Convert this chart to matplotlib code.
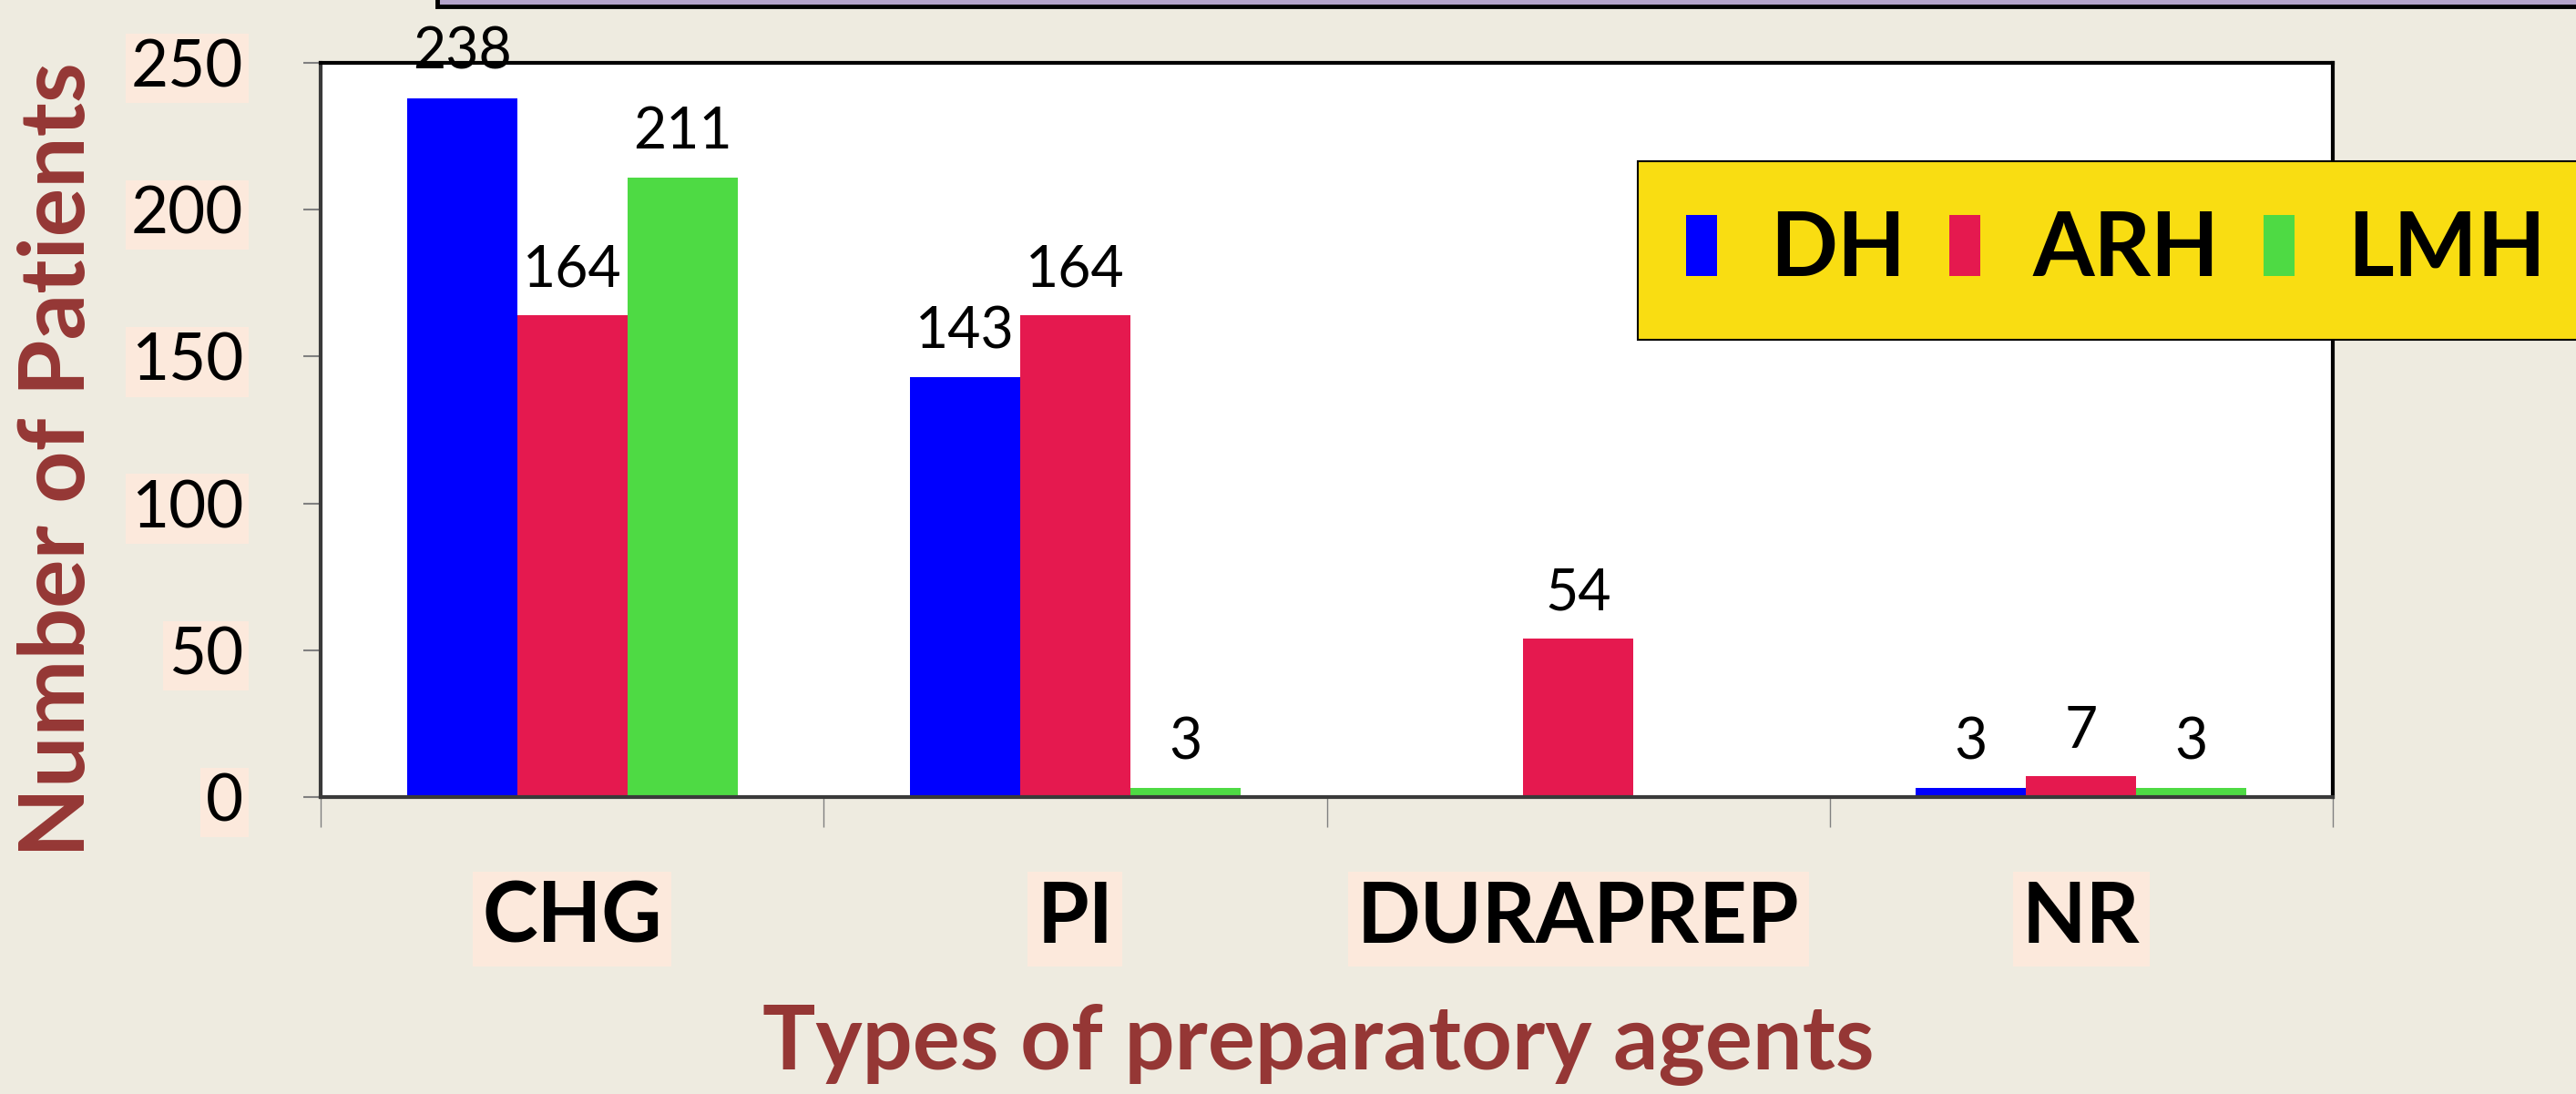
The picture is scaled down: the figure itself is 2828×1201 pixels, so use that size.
import numpy as np
import matplotlib
matplotlib.use('Agg')
import matplotlib.pyplot as plt
from matplotlib.patches import Rectangle

# data
categories = ['CHG', 'PI', 'DURAPREP', 'NR']
series_names = ['DH', 'ARH', 'LMH']
dh_values = [238, 143, 0, 3]
arh_values = [164, 164, 54, 7]
lmh_values = [211, 3, 0, 3]
y_ticks = [0, 50, 100, 150, 200, 250]

colors = ['#0000FF', '#E5194F', '#4EDA44']
bg_color = '#EEEBE0'
peach = '#FCE9DC'
brown = '#953735'

plt.rcParams['font.family'] = ['Lato', 'DejaVu Sans']

fig = plt.figure(figsize=(28.28, 12.01), dpi=100, facecolor=bg_color)
ax = fig.add_axes([352 / 2828, 1 - 875 / 1201, 2209 / 2828, 806 / 1201])
ax.set_facecolor('white')

# the purple box cut off at the top of the slide
fig.patches.append(Rectangle((480 / 2828, 1 - 7 / 1201), 0.9, 0.1,
                             transform=fig.transFigure, facecolor='#B3A3CA',
                             edgecolor='black', linewidth=3.5, zorder=0))

x = np.arange(len(categories))
width = 0.219
all_values = [dh_values, arh_values, lmh_values]
for i, (name, vals) in enumerate(zip(series_names, all_values)):
    bars = ax.bar(x + (i - 1) * width, vals, width, color=colors[i], label=name,
                  edgecolor='none', zorder=2)
    labels = [str(v) if v > 0 else '' for v in vals]
    ax.bar_label(bars, labels=labels, padding=15, fontsize=45, color='black',
                 clip_on=False)

ax.set_xlim(-0.5, len(categories) - 0.5)
ax.set_ylim(0, 250)
ax.set_yticks(y_ticks)
ax.set_yticklabels([str(t) for t in y_ticks], fontsize=51)
ax.tick_params(axis='y', direction='out', length=14, width=1.5, color='#808080', pad=47)

# boundary ticks (major) and category labels (minor)
ax.set_xticks(np.arange(-0.5, len(categories), 1.0))
ax.set_xticklabels([])
ax.tick_params(axis='x', which='major', direction='out', length=24, width=1.0, color='#808080')
ax.set_xticks(x, minor=True)
ax.set_xticklabels(categories, minor=True, fontsize=66, fontweight='bold')
ax.tick_params(axis='x', which='minor', length=0, pad=66)

for lab in ax.get_yticklabels():
    lab.set_bbox(dict(facecolor=peach, edgecolor='none', pad=4))
for lab in ax.get_xticklabels(minor=True):
    lab.set_bbox(dict(facecolor=peach, edgecolor='none', pad=7))

for side in ['top', 'right']:
    ax.spines[side].set_linewidth(3)
    ax.spines[side].set_color('black')
ax.spines['left'].set_linewidth(3)
ax.spines['left'].set_color('#3a3a3a')
ax.spines['bottom'].set_linewidth(3)
ax.spines['bottom'].set_color('#3a3a3a')

ax.set_ylabel('Number of Patients', fontsize=72, fontweight='bold', color=brown, va='center')
ax.yaxis.set_label_coords(-0.13, 0.46)
ax.set_xlabel('Types of preparatory agents', fontsize=70, fontweight='bold', color=brown, va='center')
ax.xaxis.set_label_coords(0.496, -0.337)

leg = ax.legend(loc='upper left', bbox_to_anchor=(1798 / 2828, 1 - 177 / 1201),
                bbox_transform=fig.transFigure, ncol=3,
                prop={'weight': 'bold', 'size': 70},
                handlelength=0.34, handleheight=0.68, handletextpad=0.6,
                columnspacing=0.5, borderpad=0.55, borderaxespad=0,
                fancybox=False, framealpha=1, facecolor='#F9DD12', edgecolor='black')
leg.get_frame().set_linewidth(1.5)

fig.savefig('out.png', dpi=100, facecolor=bg_color)
